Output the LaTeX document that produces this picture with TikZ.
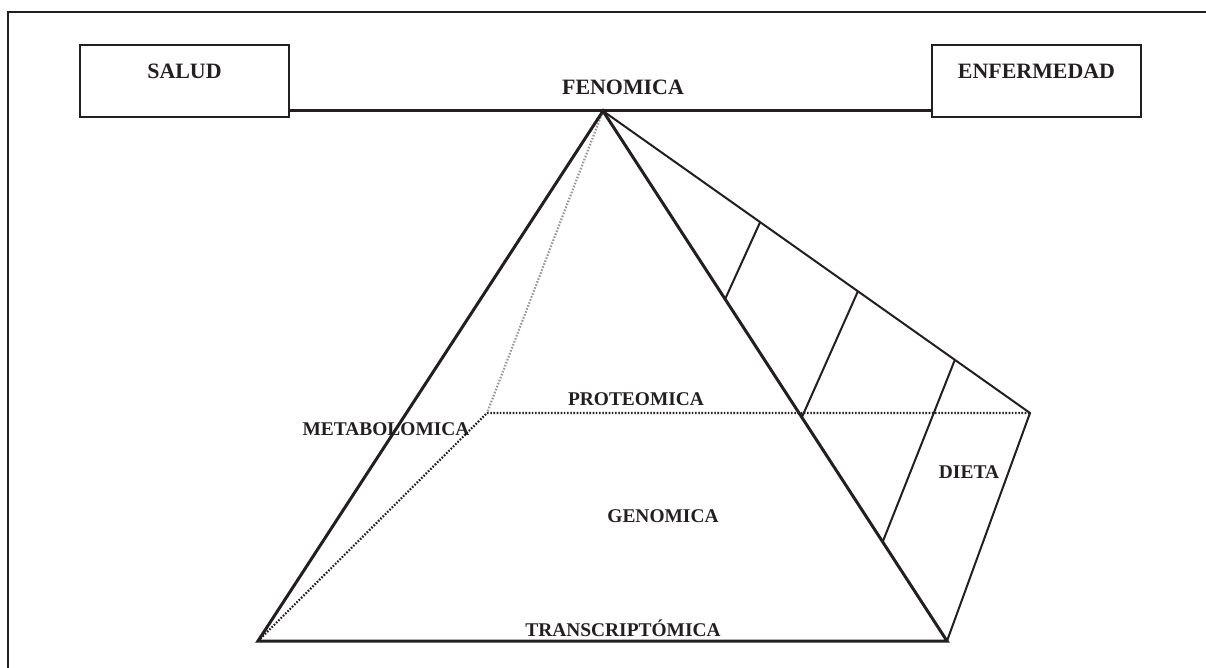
\documentclass[tikz,border=0pt]{standalone}
\usepackage{fontspec}
\setmainfont{Liberation Serif}
\usepackage{xcolor}
\usepackage{tikz}
\usetikzlibrary{positioning,calc}
\definecolor{ink}{RGB}{35,31,32}
\tikzstyle{statebox}=[rectangle, draw=ink, line width=2.5bp, minimum width=209bp, inner sep=0pt,
        text height=34bp, text depth=38bp, text=ink, font=\fontsize{22}{24}\selectfont\bfseries]
\tikzstyle{toptext}=[inner sep=0pt, anchor=base, text=ink, font=\fontsize{22}{24}\selectfont\bfseries]
\tikzstyle{omic}=[inner sep=0pt, anchor=base, text=ink, font=\fontsize{19.5}{22}\selectfont\bfseries]
\tikzstyle{edge}=[draw=ink, line width=3bp]
\tikzstyle{side}=[draw=ink, line width=2bp]
\tikzstyle{hidden}=[draw=ink, line width=2.2bp, dash pattern=on 1.6bp off 1.6bp]

\begin{document}
\begin{tikzpicture}[x=1bp, y=-1bp]
        \useasboundingbox (0,0) rectangle (1206,668);
        % frame
        \draw[ink, line width=1.5bp] (8,668) -- (8,12) -- (1206,12);
        % states
        \node (Salud) [statebox] at (184.5,81) {SALUD};
        \node (Enfermedad) [statebox] at (1036.5,81) {ENFERMEDAD};
        \draw[edge] ([yshift=-30bp]Salud.east) -- ([yshift=-30bp]Enfermedad.west);
        \node (Fenomica) [toptext] at (623,95) {FENOMICA};
        % pyramid
        \coordinate (Apex) at (603,111);
        \coordinate (BaseL) at (258,641);
        \coordinate (BaseR) at (947,641);
        \coordinate (Back) at (487,413);
        \coordinate (Far) at (1030,413);
        \node (Proteomica) [omic] at (636,405) {PROTEOMICA};
        \node (Metabolomica) [omic] at (386,435) {METABOLOMICA};
        \node (Genomica) [omic] at (663,522) {GENOMICA};
        \node (Transcriptomica) [omic] at (623,636) {TRANSCRIPTÓMICA};
        \node (Dieta) [omic] at (969,478) {DIETA};
        \draw[hidden, draw=gray!80] (Apex) -- (Back);
        \draw[hidden] (BaseL) -- (Back) -- (Far);
        \draw[edge] (BaseL) -- (Apex) -- (BaseR) -- cycle;
        % diet side
        \draw[side] (Apex) -- (Far) -- (BaseR);
        \foreach \s/\t in {0.368/0.355, 0.597/0.578, 0.824/0.813}
          \draw[side] ($(Apex)!\s!(Far)$) -- ($(Apex)!\t!(BaseR)$);
\end{tikzpicture}
\end{document}
